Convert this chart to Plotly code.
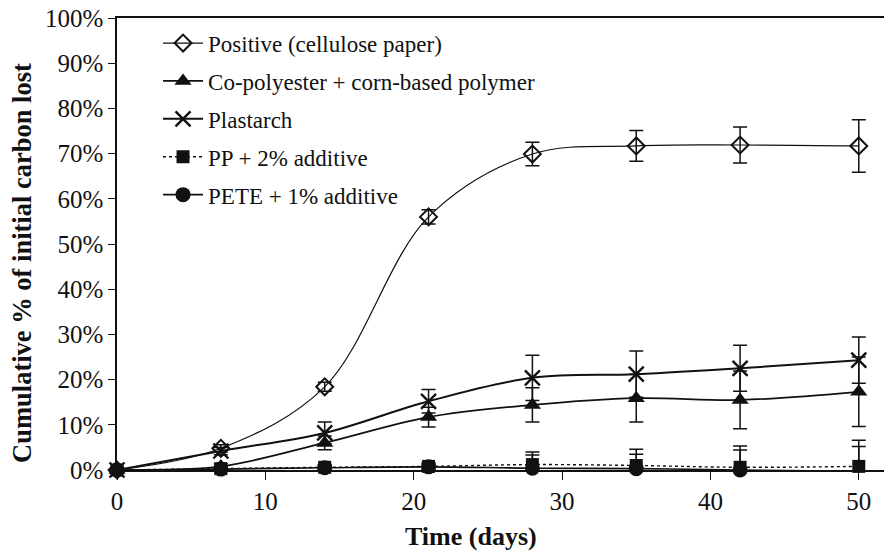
import plotly.graph_objects as go

# Sampling days and cumulative carbon loss (%), with error half-widths
days = [0, 7, 14, 21, 28, 35, 42, 50]

positive = [0, 4.8, 18.4, 56.0, 69.9, 71.7, 71.9, 71.7]
positive_err = [0, 0.8, 1.0, 1.6, 2.6, 3.4, 4.0, 5.8]

copoly = [0, 0.8, 6.0, 11.7, 14.4, 15.9, 15.5, 17.3]
copoly_err = [0, 0.6, 1.5, 2.2, 3.8, 5.3, 6.4, 7.7]

plastarch = [0, 4.2, 8.2, 15.2, 20.4, 21.2, 22.5, 24.3]
plastarch_err = [0, 0.8, 2.4, 2.6, 5.0, 5.1, 5.1, 5.1]

pp = [0, 0.3, 0.6, 0.8, 1.2, 1.0, 0.6, 0.8]
pp_err = [0, 0.5, 0.6, 0.8, 2.8, 3.6, 4.7, 5.8]

pete = [0, 0.2, 0.5, 0.7, 0.4, 0.3, 0.0, -0.3]
pete_err = [0, 0.4, 0.5, 0.6, 2.9, 3.2, 4.4, 5.5]

x_ticks = [0, 10, 20, 30, 40, 50]
y_ticks = list(range(0, 101, 10))
y_ticktext = [f"{v}%" for v in y_ticks]

INK = "#111111"
SERIF = "Liberation Serif, Times New Roman, serif"

series = [
    ("Positive (cellulose paper)", positive, positive_err,
     dict(symbol="diamond-open", size=13, color=INK, line=dict(width=2, color=INK)),
     dict(width=1.2, dash="solid")),
    ("Co-polyester + corn-based polymer", copoly, copoly_err,
     dict(symbol="triangle-up", size=15, color=INK, line=dict(width=0, color=INK)),
     dict(width=1.8, dash="solid")),
    ("Plastarch", plastarch, plastarch_err,
     dict(symbol="x-thin-open", size=15, color=INK, line=dict(width=2.4, color=INK)),
     dict(width=2.0, dash="solid")),
    ("PP + 2% additive", pp, pp_err,
     dict(symbol="square", size=13, color=INK, line=dict(width=0, color=INK)),
     dict(width=1.4, dash="dot")),
    ("PETE + 1% additive", pete, pete_err,
     dict(symbol="circle", size=15, color=INK, line=dict(width=0, color=INK)),
     dict(width=1.6, dash="solid")),
]

fig = go.Figure()
for i, (name, vals, errs, marker, line) in enumerate(series):
    fig.add_trace(go.Scatter(
        x=days, y=vals, name=name, mode="lines+markers",
        legendgroup=f"g{i}",
        line=dict(color=INK, shape="spline", smoothing=1.0, **line),
        marker=marker,
        error_y=dict(type="data", array=errs, visible=True,
                     color=INK, thickness=1.5, width=7),
        cliponaxis=False,
    ))

# Axis titles placed as annotations so they can sit off-centre
fig.add_annotation(
    text="<b>Cumulative % of initial carbon lost</b>",
    xref="paper", yref="paper", x=-0.124, y=0.458,
    xanchor="center", yanchor="middle", textangle=-90, showarrow=False,
    font=dict(family=SERIF, size=26.5, color=INK),
)
fig.add_annotation(
    text="<b>Time (days)</b>",
    xref="paper", yref="paper", x=0.4615, y=-0.148,
    xanchor="center", yanchor="middle", showarrow=False,
    font=dict(family=SERIF, size=26, color=INK),
)

fig.update_layout(
    width=884, height=552,
    margin=dict(l=117, r=0, t=18, b=82),
    paper_bgcolor="white", plot_bgcolor="white",
    font=dict(family=SERIF, color=INK, size=22),
    showlegend=True,
    legend=dict(
        x=0.0535, y=0.992, xanchor="left", yanchor="top",
        bgcolor="rgba(0,0,0,0)", borderwidth=0,
        font=dict(family=SERIF, size=23, color=INK),
        tracegroupgap=5, itemwidth=40,
    ),
    xaxis=dict(
        range=[0, 51.7], tickvals=x_ticks, ticktext=[str(t) for t in x_ticks],
        showgrid=False, zeroline=False,
        showline=True, linecolor=INK, linewidth=1.5, mirror=True,
        ticks="outside", ticklen=8, tickwidth=1.2, tickcolor=INK,
        tickfont=dict(family=SERIF, size=25, color=INK),
    ),
    yaxis=dict(
        range=[0, 100], tickvals=y_ticks, ticktext=y_ticktext,
        showgrid=False, zeroline=False,
        showline=True, linecolor=INK, linewidth=1.5, mirror=False,
        ticks="outside", ticklen=7, tickwidth=1.2, tickcolor=INK,
        tickfont=dict(family=SERIF, size=25, color=INK),
    ),
)

fig.write_html("out.html")
